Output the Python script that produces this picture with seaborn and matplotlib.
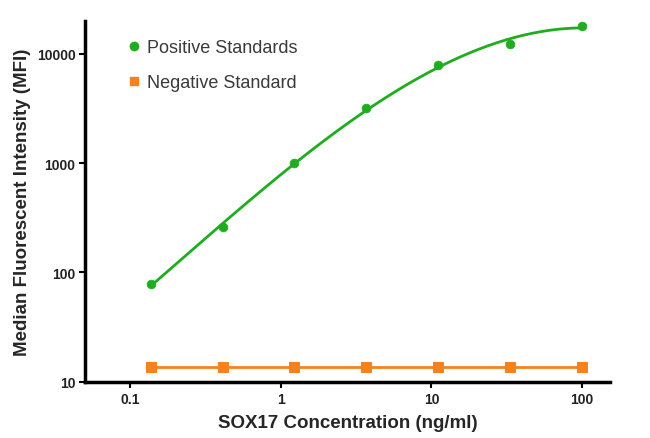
import numpy as np
import pandas as pd
import matplotlib
matplotlib.use("Agg")
import matplotlib.pyplot as plt
import seaborn as sns
from matplotlib.lines import Line2D
from matplotlib.ticker import FixedLocator, FixedFormatter, NullLocator

# Datos
conc = [0.137, 0.412, 1.23, 3.70, 11.1, 33.3, 100]
pos_mfi = [78, 263, 1000, 3180, 7940, 12350, 18000]
neg_mfi = [13.8, 13.8, 13.8, 13.8, 13.8, 13.8, 13.8]
x_ticks = [0.1, 1, 10, 100]
x_labels = ["0.1", "1", "10", "100"]
y_ticks = [10, 100, 1000, 10000]
y_labels = ["10", "100", "1000", "10000"]

green = "#1fad1f"
orange = "#f5821f"

sns.set_style("white")
plt.rcParams["font.family"] = ["Liberation Sans", "DejaVu Sans"]

df_pos = pd.DataFrame({"conc": conc, "mfi": pos_mfi})
df_neg = pd.DataFrame({"conc": conc, "mfi": neg_mfi})

# Ajuste de curva en escala log-log (cúbico)
coef = np.polyfit(np.log10(conc), np.log10(pos_mfi), 3)
xs = np.logspace(np.log10(conc[0]), np.log10(conc[-1]), 200)
df_fit = pd.DataFrame({"conc": xs, "mfi": 10 ** np.polyval(coef, np.log10(xs))})

fig = plt.figure(figsize=(6.5, 4.39), dpi=100)
ax = fig.add_axes([0.131, 0.128, 0.807, 0.822])

sns.lineplot(data=df_fit, x="conc", y="mfi", color=green, lw=2, ax=ax)
sns.scatterplot(data=df_pos, x="conc", y="mfi", color=green, marker="o", s=40,
                edgecolor=green, ax=ax, zorder=3)
sns.lineplot(data=df_neg, x="conc", y="mfi", color=orange, lw=2, marker="s",
             markersize=6.5, markeredgecolor=orange, ax=ax)

ax.set_xscale("log")
ax.set_yscale("log")
ax.set_xlim(0.05, 153)
ax.set_ylim(10, 20000)

ax.xaxis.set_major_locator(FixedLocator(x_ticks))
ax.xaxis.set_major_formatter(FixedFormatter(x_labels))
ax.xaxis.set_minor_locator(NullLocator())
ax.yaxis.set_major_locator(FixedLocator(y_ticks))
ax.yaxis.set_major_formatter(FixedFormatter(y_labels))
ax.yaxis.set_minor_locator(NullLocator())

for side in ["top", "right"]:
    ax.spines[side].set_visible(False)
for side in ["left", "bottom"]:
    ax.spines[side].set_linewidth(2.5)
    ax.spines[side].set_color("black")

ax.tick_params(axis="both", which="major", direction="out", length=4, width=1.5,
               labelsize=10, colors="black", bottom=True, left=True, pad=3)
for lbl in ax.get_xticklabels() + ax.get_yticklabels():
    lbl.set_fontweight("bold")
    lbl.set_color("#222222")

ax.set_xlabel("SOX17 Concentration (ng/ml)", fontsize=13.5, fontweight="bold", labelpad=6)
ax.set_ylabel("Median Fluorescent Intensity (MFI)", fontsize=13.5, fontweight="bold", labelpad=4)

handles = [
    Line2D([], [], ls="none", marker="o", color=green, markersize=6),
    Line2D([], [], ls="none", marker="s", color=orange, markersize=6),
]
leg = ax.legend(handles, ["Positive Standards", "Negative Standard"],
                loc="upper left", bbox_to_anchor=(0.05, 0.995), frameon=False,
                fontsize=13, handlelength=0.7, handletextpad=0.4, labelspacing=1.0)
for t in leg.get_texts():
    t.set_color("#3a3a3a")

fig.savefig("out.png", dpi=100)
plt.close(fig)
